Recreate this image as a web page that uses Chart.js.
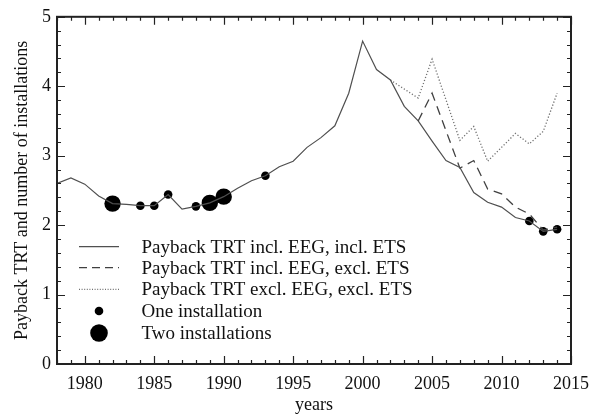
<!DOCTYPE html>
<html>
<head>
<meta charset="utf-8">
<script src="https://cdn.jsdelivr.net/npm/chart.js@4/dist/chart.umd.min.js"></script>
<style>
  html, body { margin: 0; padding: 0; background: #fff; }
  #wrap { width: 598px; height: 416px; }
</style>
</head>
<body>
<div id="wrap"><canvas id="paybackChart" width="598" height="416"></canvas></div>
<script>
// payback time, incl. EEG and incl. ETS (solid line)
const yearsIncl = [1978, 1979, 1980, 1981, 1982, 1983, 1984, 1985, 1986, 1987, 1988, 1989, 1990,
  1991, 1992, 1993, 1994, 1995, 1996, 1997, 1998, 1999, 2000, 2001, 2002, 2003, 2004, 2005,
  2006, 2007, 2008, 2009, 2010, 2011, 2012, 2013, 2014];
const paybackIncl = [2.60, 2.68, 2.59, 2.42, 2.31, 2.30, 2.28, 2.28, 2.44, 2.23, 2.27, 2.32, 2.41,
  2.53, 2.64, 2.71, 2.84, 2.92, 3.12, 3.26, 3.43, 3.90, 4.65, 4.24, 4.09, 3.71, 3.50, 3.21,
  2.93, 2.83, 2.47, 2.33, 2.26, 2.11, 2.06, 1.91, 1.94];

// incl. EEG, excl. ETS (dashed)
const yearsExclEts = [2004, 2005, 2007, 2008, 2009, 2010, 2011, 2012, 2013, 2014];
const paybackExclEts = [3.50, 3.90, 2.82, 2.93, 2.52, 2.45, 2.26, 2.16, 1.93, 1.97];

// excl. EEG, excl. ETS (dotted)
const yearsExclBoth = [2002, 2004, 2005, 2007, 2008, 2009, 2011, 2012, 2013, 2014];
const paybackExclBoth = [4.09, 3.83, 4.39, 3.22, 3.42, 2.92, 3.32, 3.17, 3.35, 3.90];

// installations
const oneYears = [1984, 1985, 1986, 1988, 1993, 2012, 2013, 2014];
const oneValues = [2.28, 2.28, 2.44, 2.27, 2.71, 2.06, 1.91, 1.94];
const twoYears = [1982, 1989, 1990];
const twoValues = [2.31, 2.32, 2.41];

const xTickLabels = [1980, 1985, 1990, 1995, 2000, 2005, 2010, 2015];

const legendLabels = [
  'Payback TRT incl. EEG, incl. ETS',
  'Payback TRT incl. EEG, excl. ETS',
  'Payback TRT excl. EEG, excl. ETS',
  'One installation',
  'Two installations'
];

const serif = '"Liberation Serif", "Times New Roman", serif';

function pts(xs, ys) {
  return xs.map((x, i) => ({ x: x, y: ys[i] }));
}

// frame + inward ticks on all four sides
const frameTicks = {
  id: 'frameTicks',
  afterDatasetsDraw(chart) {
    const ctx = chart.ctx;
    const a = chart.chartArea;
    const xs = chart.scales.x, ys = chart.scales.y;
    ctx.save();
    ctx.strokeStyle = '#222';
    ctx.lineWidth = 1.2;
    ctx.beginPath();
    for (let yr = 1978; yr <= 2015; yr++) {
      const px = Math.round(xs.getPixelForValue(yr)) + 0.5;
      const len = yr % 5 === 0 ? 8 : 4;
      ctx.moveTo(px, a.bottom); ctx.lineTo(px, a.bottom - len);
      ctx.moveTo(px, a.top); ctx.lineTo(px, a.top + len);
    }
    for (let i = 0; i <= 25; i++) {
      const v = i / 5;
      const py = Math.round(ys.getPixelForValue(v)) + 0.5;
      const len = i % 5 === 0 ? 8 : 4;
      ctx.moveTo(a.left, py); ctx.lineTo(a.left + len, py);
      ctx.moveTo(a.right, py); ctx.lineTo(a.right - len, py);
    }
    ctx.stroke();
    ctx.lineWidth = 2;
    ctx.strokeRect(a.left, a.top, a.right - a.left, a.bottom - a.top);
    ctx.restore();
  }
};

// legend drawn inside the plot area
const innerLegend = {
  id: 'innerLegend',
  afterDraw(chart) {
    const ctx = chart.ctx;
    const rows = [246.7, 267.7, 289.3, 311, 333];
    const x0 = 79, x1 = 119, tx = 141.5;
    ctx.save();
    const styles = [
      { color: '#505050', dash: [], width: 1.2 },
      { color: '#404040', dash: [8, 5], width: 1.2 },
      { color: '#707070', dash: [1, 1.6], width: 1.2 }
    ];
    styles.forEach((s, i) => {
      ctx.strokeStyle = s.color;
      ctx.lineWidth = s.width;
      ctx.setLineDash(s.dash);
      ctx.beginPath();
      ctx.moveTo(x0, rows[i]);
      ctx.lineTo(x1, rows[i]);
      ctx.stroke();
    });
    ctx.setLineDash([]);
    ctx.fillStyle = '#000';
    ctx.beginPath(); ctx.arc(99, rows[3], 4.3, 0, Math.PI * 2); ctx.fill();
    ctx.beginPath(); ctx.arc(99, rows[4], 8.8, 0, Math.PI * 2); ctx.fill();
    ctx.fillStyle = '#111';
    ctx.font = '19px ' + serif;
    ctx.textBaseline = 'middle';
    legendLabels.forEach((t, i) => ctx.fillText(t, tx, rows[i] + 1));
    ctx.restore();
  }
};

new Chart(document.getElementById('paybackChart'), {
  type: 'line',
  data: {
    datasets: [
      {
        label: legendLabels[0],
        data: pts(yearsIncl, paybackIncl),
        borderColor: '#505050',
        borderWidth: 1.2,
        pointRadius: 0,
        tension: 0
      },
      {
        label: legendLabels[1],
        data: pts(yearsExclEts, paybackExclEts),
        borderColor: '#404040',
        borderWidth: 1.3,
        borderDash: [9, 6],
        pointRadius: 0,
        tension: 0
      },
      {
        label: legendLabels[2],
        data: pts(yearsExclBoth, paybackExclBoth),
        borderColor: '#707070',
        borderWidth: 1.3,
        borderDash: [1.2, 2],
        pointRadius: 0,
        tension: 0
      },
      {
        label: legendLabels[3],
        data: pts(oneYears, oneValues),
        showLine: false,
        pointRadius: 4.3,
        pointBackgroundColor: '#000',
        pointBorderWidth: 0,
        borderColor: '#000'
      },
      {
        label: legendLabels[4],
        data: pts(twoYears, twoValues),
        showLine: false,
        pointRadius: 8.2,
        pointBackgroundColor: '#000',
        pointBorderWidth: 0,
        borderColor: '#000'
      }
    ]
  },
  options: {
    responsive: false,
    animation: false,
    layout: { padding: { top: 15, right: 19, left: 0, bottom: 0 } },
    plugins: {
      legend: { display: false },
      tooltip: { enabled: false }
    },
    scales: {
      x: {
        type: 'linear',
        min: 1978,
        max: 2015,
        grid: { display: false, drawTicks: false },
        border: { display: false },
        afterBuildTicks: (scale) => {
          scale.ticks = xTickLabels.map(v => ({ value: v }));
        },
        afterFit: (scale) => { scale.height = 52; },
        ticks: {
          autoSkip: false,
          maxRotation: 0,
          padding: 9,
          color: '#111',
          font: { family: serif, size: 18 },
          callback: (v) => String(v)
        },
        title: {
          display: true,
          text: 'years',
          color: '#111',
          padding: 0,
          font: { family: serif, size: 18 }
        }
      },
      y: {
        min: 0,
        max: 5,
        grid: { display: false, drawTicks: false },
        border: { display: false },
        afterFit: (scale) => { scale.width = 57; },
        ticks: {
          stepSize: 1,
          padding: 6,
          color: '#111',
          font: { family: serif, size: 18 }
        },
        title: {
          display: true,
          text: 'Payback TRT and number of installations',
          color: '#111',
          padding: { top: 11, bottom: 0 },
          font: { family: serif, size: 18 }
        }
      }
    }
  },
  plugins: [frameTicks, innerLegend]
});
</script>
</body>
</html>
